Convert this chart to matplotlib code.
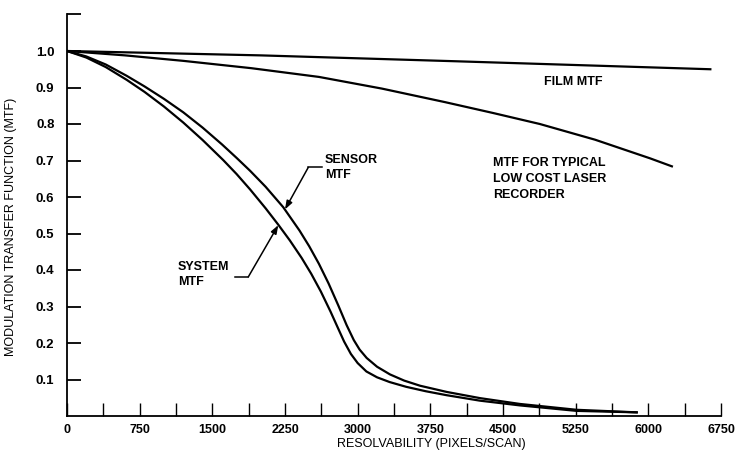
import matplotlib
matplotlib.use("Agg")
import matplotlib.pyplot as plt
from matplotlib.ticker import MultipleLocator

# resolvability (pixels/scan) vs MTF for each curve
film_x = [0, 2000, 4000, 6640]
film_y = [1.0, 0.988, 0.972, 0.950]

laser_x = [0, 600, 1200, 1900, 2600, 3250, 3900, 4400, 4880, 5450, 6017, 6243]
laser_y = [1.0, 0.988, 0.973, 0.953, 0.929, 0.897, 0.860, 0.830, 0.800, 0.757, 0.706, 0.684]

sensor_x = [0, 200, 400, 616, 800, 1000, 1200, 1400, 1600, 1751, 1889, 2050, 2232,
            2400, 2500, 2600, 2700, 2800, 2886, 2960, 3020, 3093, 3200, 3333, 3480,
            3643, 3918, 4262, 4675, 5260, 5880]
sensor_y = [1.0, 0.985, 0.963, 0.932, 0.903, 0.869, 0.832, 0.790, 0.744, 0.707, 0.672,
            0.628, 0.572, 0.508, 0.465, 0.417, 0.363, 0.303, 0.249, 0.208, 0.182, 0.159,
            0.135, 0.114, 0.097, 0.083, 0.066, 0.049, 0.033, 0.017, 0.010]

system_x = [0, 200, 400, 616, 800, 1000, 1200, 1400, 1613, 1750, 1889, 2050, 2181,
            2300, 2422, 2520, 2620, 2720, 2800, 2860, 2930, 3000, 3090, 3200, 3330,
            3500, 3700, 3918, 4262, 4675, 5260, 5880]
system_y = [1.0, 0.982, 0.956, 0.921, 0.888, 0.848, 0.804, 0.756, 0.701, 0.663, 0.621,
            0.569, 0.524, 0.481, 0.433, 0.390, 0.341, 0.286, 0.239, 0.204, 0.170, 0.145,
            0.122, 0.106, 0.093, 0.080, 0.068, 0.057, 0.042, 0.029, 0.014, 0.010]

x_ticks = [0, 750, 1500, 2250, 3000, 3750, 4500, 5250, 6000, 6750]
y_ticks = [0.1, 0.2, 0.3, 0.4, 0.5, 0.6, 0.7, 0.8, 0.9, 1.0]

FONT = "Liberation Sans"

fig = plt.figure(figsize=(7.38, 4.55), dpi=100)
ax = fig.add_axes([67 / 738, 1 - 416 / 455, (721 - 67) / 738, (416 - 14.5) / 455])

lw = 1.6
for xs, ys in [(film_x, film_y), (laser_x, laser_y),
               (sensor_x, sensor_y), (system_x, system_y)]:
    ax.plot(xs, ys, color="black", lw=lw, solid_joinstyle="round")

ax.set_xlim(0, 6750)
ax.set_ylim(0, 1.1)

ax.set_xticks(x_ticks)
ax.set_xticklabels([str(v) for v in x_ticks])
ax.xaxis.set_minor_locator(MultipleLocator(375))
ax.set_yticks(y_ticks + [1.1])
ax.set_yticklabels([f"{v:.1f}" for v in y_ticks] + [""])

ax.tick_params(axis="x", which="both", direction="in", length=9.5, width=1.0,
               pad=6, labelsize=9)
ax.tick_params(axis="y", direction="in", length=10, width=1.3, pad=9, labelsize=9.5)
for lab in ax.get_xticklabels() + ax.get_yticklabels():
    lab.set_fontfamily(FONT)
    lab.set_fontweight("bold")

for side in ("top", "right"):
    ax.spines[side].set_visible(False)
for side in ("left", "bottom"):
    ax.spines[side].set_linewidth(1.3)

ax.set_xlabel("RESOLVABILITY (PIXELS/SCAN)", fontsize=9, family=FONT)
ax.xaxis.set_label_coords((431 - 67) / 654, -(438 - 416) / 401.5)
ax.set_ylabel("MODULATION TRANSFER FUNCTION (MTF)", fontsize=9, family=FONT)
ax.yaxis.set_label_coords(-(67 - 17) / 654, (416 - 227) / 401.5)

txt = dict(fontsize=9, family=FONT, fontweight="bold", color="black")
ax.text(5222, 0.915, "FILM MTF", ha="center", va="center", **txt)
ax.text(4396, 0.71, "MTF FOR TYPICAL\nLOW COST LASER\nRECORDER",
        ha="left", va="top", linespacing=1.45, **txt)
ax.text(2662, 0.681, "SENSOR\nMTF", ha="left", va="center", linespacing=1.25, **txt)
ax.text(1145, 0.388, "SYSTEM\nMTF", ha="left", va="center", linespacing=1.25, **txt)

# leader lines with small arrowheads onto the curves
arrow = dict(arrowstyle="-|>,head_length=0.5,head_width=0.18", color="black",
             lw=1.1, shrinkA=0, shrinkB=0)
ax.plot([2628, 2490], [0.681, 0.681], color="black", lw=1.1)
ax.annotate("", xy=(2250, 0.566), xytext=(2490, 0.681), arrowprops=arrow)
ax.plot([1734, 1871], [0.381, 0.381], color="black", lw=1.1)
ax.annotate("", xy=(2181, 0.523), xytext=(1871, 0.381), arrowprops=arrow)

fig.savefig("out.png", dpi=100)
